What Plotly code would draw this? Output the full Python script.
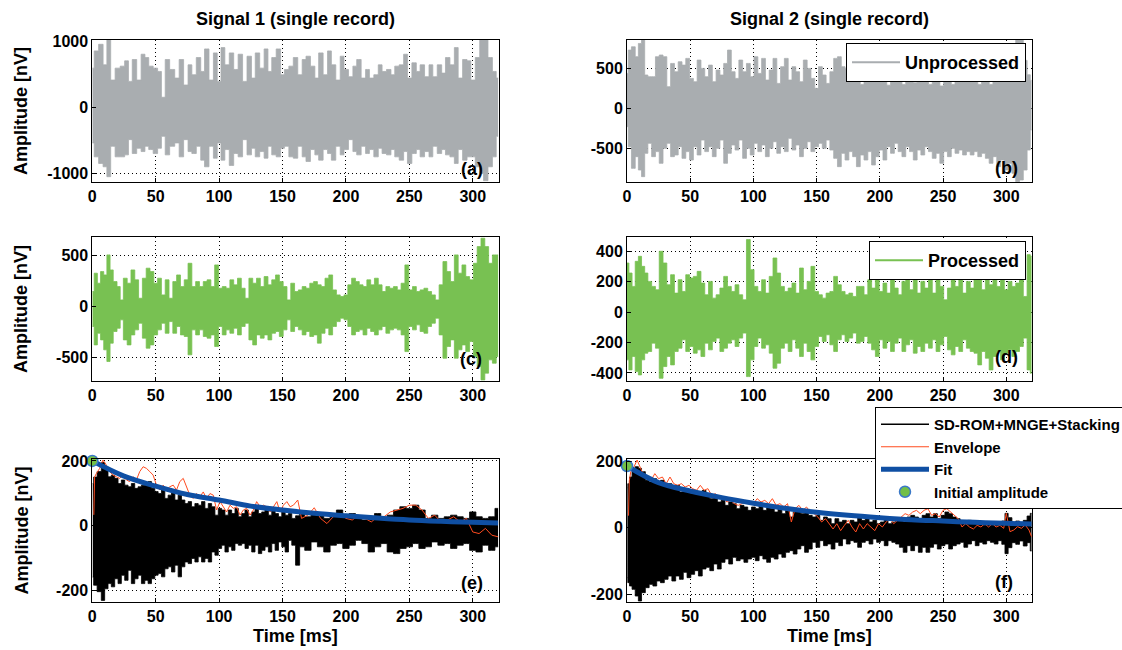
import plotly.graph_objects as go

# ---------------- data ----------------
# (a) Signal 1 unprocessed: upper / lower extremes of the trace
t_a = [0, 3, 7, 10, 13, 16, 20, 24, 27, 30,
       33, 37, 40, 43, 46, 50, 53, 56, 59, 63,
       67, 70, 74, 77, 80, 84, 87, 90, 94, 97,
       100, 103, 106, 110, 113, 117, 120, 124, 127, 130,
       134, 137, 140, 143, 147, 150, 153, 157, 160, 164,
       167, 170, 174, 177, 180, 184, 187, 190, 194, 197,
       200, 204, 207, 210, 214, 217, 220, 224, 227, 230,
       234, 237, 240, 244, 247, 250, 254, 257, 260, 264,
       267, 270, 274, 277, 280, 284, 287, 290, 294, 297,
       300, 304, 307, 310, 314, 317, 320]
up_a = [590, 850, 950, 640, 1050, 410, 590, 620, 700, 390,
        720, 410, 800, 750, 620, 590, 540, 150, 720, 570,
        440, 720, 335, 640, 490, 750, 540, 880, 410, 820,
        390, 900, 640, 820, 570, 800, 390, 770, 440, 820,
        590, 880, 540, 750, 880, 490, 570, 620, 750, 490,
        720, 770, 620, 440, 820, 490, 850, 640, 410, 770,
        570, 460, 620, 720, 440, 570, 440, 490, 640, 540,
        570, 490, 620, 640, 800, 440, 670, 540, 640, 460,
        640, 460, 640, 515, 750, 640, 900, 440, 720, 700,
        410, 750, 1050, 1050, 750, 540, 440]
lo_a = [-540, -750, -850, -900, -1050, -590, -750, -750, -720, -490,
        -700, -620, -670, -590, -640, -700, -620, -440, -720, -590,
        -540, -750, -490, -670, -700, -590, -800, -900, -590, -770,
        -540, -800, -640, -880, -700, -750, -490, -720, -620, -750,
        -670, -770, -590, -720, -750, -620, -590, -750, -770, -590,
        -750, -820, -640, -720, -800, -640, -700, -800, -590, -720,
        -640, -490, -670, -720, -590, -700, -640, -750, -620, -700,
        -720, -640, -750, -800, -670, -850, -700, -640, -750, -670,
        -750, -590, -700, -640, -720, -750, -850, -640, -800, -750,
        -750, -900, -1000, -1110, -900, -750, -440]

# (b) Signal 2 unprocessed
t_b = [0, 2, 5, 8, 10, 13,
       15, 18, 21, 24, 27, 30, 33, 36, 39, 42, 45, 48, 51, 54, 57, 60, 63, 66, 69, 72,
       75, 78, 81, 84, 87, 90, 93, 96, 99, 102, 105, 108, 111, 114, 117, 120, 123, 126,
       129, 132, 135, 138, 141, 144, 147, 150, 153, 156, 159, 162, 165, 168,
       171, 174, 177, 180, 183, 186, 189, 192, 195, 198, 201, 204, 207, 210, 213, 216,
       219, 222, 225, 228, 231, 234, 237, 240, 243, 246, 249, 252, 255, 258, 261, 264,
       267, 270, 273, 276, 279, 282, 285, 288, 291, 294, 297, 300, 303, 306, 309, 312,
       315, 318, 320]
up_b = [437, 729, 770, 646, 812, 862,
        417, 396, 396, 646, 667, 646, 271, 562, 458, 583,
        541, 625, 375, 333, 604, 500, 396, 541, 333, 479,
        417, 562, 729, 458, 375, 604, 458, 562, 396, 646,
        437, 625, 354, 479, 625, 312, 521, 625, 354, 521,
        458, 333, 604, 500, 375, 250, 521, 417, 312, 458,
        625, 646,
        521, 500, 350, 580, 420, 300, 550, 450, 330, 600,
        420, 500, 290, 550, 400, 470, 300, 520, 400, 320,
        560, 400, 450, 300, 520, 410, 280, 500, 380, 300,
        480, 420, 330, 520, 400, 460, 300, 550, 420, 300,
        520, 380, 450, 350, 520, 700, 880, 880, 600, 420,
        350]
lo_b = [-229, -479, -750, -604, -771, -854,
        -562, -437, -604, -541, -687, -500, -437, -604, -583, -479,
        -625, -541, -646, -479, -583, -396, -541, -479, -604, -500,
        -396, -687, -562, -458, -521, -396, -625, -500, -583, -437,
        -541, -458, -604, -500, -417, -562, -479, -541, -375, -521,
        -458, -604, -500, -417, -541, -479, -437, -500, -396, -521,
        -625, -729,
        -562, -646, -541, -604, -729, -583, -646, -541, -708, -604,
        -521, -646, -479, -562, -437, -541, -604, -479, -541, -646,
        -521, -583, -479, -541, -625, -562, -687, -541, -604, -500,
        -562, -521, -583, -541, -583, -541, -604, -562, -625, -687,
        -604, -729, -646, -771, -687, -812, -917, -896, -771, -521,
        -271]

# (c) Signal 1 processed
t_c = [0, 3, 5, 8, 10, 13, 15, 18, 21, 23,
       26, 29, 32, 35, 38, 41, 44, 47, 50, 53,
       56, 59, 62, 65, 68, 71, 74, 77, 80, 83,
       86, 89, 92, 95, 98, 101, 104, 107, 110, 113,
       116, 119, 122, 125, 128, 131, 134, 137, 140, 143,
       146, 149, 152, 155, 158, 161, 164, 167, 170, 173,
       176, 179, 182, 185, 188, 191, 194, 197, 200, 203,
       206, 209, 212, 215, 218, 221, 224, 227, 230, 233,
       236, 239, 242, 245, 248, 251, 254, 257, 260, 263,
       266, 269, 272, 275, 278, 281, 284, 287, 290, 293,
       296, 299, 302, 305, 308, 311, 314, 317, 320]
up_c = [147, 326, 228, 342, 309, 505, 358, 244, 195, 65,
        277, 228, 358, 261, 81, 277, 375, 342, 228, 277,
        114, 261, 81, 244, 309, 195, 261, 423, 195, 244,
        195, 244, 261, 195, 407, 179, 195, 179, 261, 212,
        277, 179, 81, 277, 228, 277, 195, 293, 212, 261,
        309, 244, 195, 65, 228, 147, 163, 195, 179, 228,
        244, 212, 195, 277, 309, 163, 114, 98, 114, 212,
        277, 244, 212, 195, 261, 212, 277, 212, 147, 195,
        179, 195, 163, 228, 407, 163, 195, 147, 163, 179,
        147, 114, 65, 212, 440, 342, 244, 505, 326, 407,
        293, 261, 423, 586, 668, 586, 423, 505, 505]
lo_c = [-195, -375, -261, -326, -423, -537, -358, -244, -212, -130,
        -326, -375, -277, -228, -163, -309, -407, -375, -277, -228,
        -163, -261, -147, -261, -195, -277, -293, -472, -228, -277,
        -228, -293, -309, -277, -391, -195, -277, -228, -261, -212,
        -277, -195, -163, -326, -375, -277, -309, -277, -326, -261,
        -244, -293, -228, -130, -244, -195, -228, -277, -244, -293,
        -277, -358, -261, -212, -277, -195, -147, -114, -130, -195,
        -277, -244, -228, -277, -212, -244, -277, -228, -195, -261,
        -228, -212, -228, -277, -440, -195, -228, -179, -244, -261,
        -195, -163, -114, -277, -505, -391, -326, -505, -423, -375,
        -440, -342, -489, -586, -717, -651, -521, -554, -489]

# (d) Signal 2 processed
t_d = [0, 3, 5, 8, 10, 13, 15,
       18, 21, 24, 27, 30, 33, 36, 39, 42, 45,
       48, 51, 54, 57, 60, 63, 66, 69, 72, 75,
       78, 81, 84, 87, 90, 93, 96, 99, 102, 105,
       108, 111, 114, 117, 120, 123, 126, 129, 132, 135,
       138, 141, 144, 147, 150, 153, 156, 159, 162, 165,
       168, 171, 174, 177, 180, 183, 186, 189, 192, 195,
       198, 201, 204, 207, 210, 213, 216, 219, 222, 225,
       228, 231, 234, 237, 240, 243, 246, 249, 252, 255,
       258, 261, 264, 267, 270, 273, 276, 279, 282, 285,
       288, 291, 294, 297, 300, 303, 306, 309, 312, 315,
       318, 320]
up_d = [323, 257, 169, 334, 367, 301, 257,
        202, 169, 147, 400, 323, 180, 246, 125, 213, 136,
        246, 224, 235, 268, 191, 114, 202, 92, 114, 158,
        235, 169, 136, 180, 114, 81, 477, 279, 169, 136,
        213, 125, 235, 356, 257, 169, 136, 158, 191, 125,
        290, 147, 202, 301, 136, 114, 92, 125, 136, 235,
        180, 136, 114, 125, 103, 169, 169, 114, 213, 158,
        246, 136, 191, 125, 235, 158, 114, 202, 224, 147,
        246, 125, 202, 158, 224, 125, 246, 169, 81, 158,
        246, 169, 235, 125, 202, 158, 224, 246, 147, 213,
        180, 224, 169, 246, 147, 202, 169, 191, 213, 103,
        378, 367]
lo_d = [-314, -380, -292, -391, -413, -314, -270,
        -259, -204, -237, -435, -358, -292, -347, -259, -237, -182,
        -259, -226, -270, -248, -292, -204, -248, -193, -171, -259,
        -237, -204, -182, -226, -171, -138, -424, -314, -226, -171,
        -237, -215, -270, -369, -336, -237, -204, -259, -182, -237,
        -292, -204, -259, -314, -226, -160, -193, -149, -215, -259,
        -182, -149, -193, -171, -138, -204, -193, -160, -204, -248,
        -292, -182, -237, -193, -259, -204, -171, -259, -215, -182,
        -270, -226, -259, -204, -237, -182, -259, -215, -160, -248,
        -281, -226, -259, -182, -237, -259, -270, -347, -259, -303,
        -380, -292, -259, -314, -270, -248, -292, -259, -226, -171,
        -380, -402]

# (e) Signal 1 stacked
t_e = [0.3, 1.8, 5.8, 8.4, 11.1, 13.7, 16.3, 19.0, 21.6, 24.2, 26.9,
       29.5, 32.1, 34.8, 37.4, 40.1, 42.7, 45.3, 48.0, 50.6, 53.2,
       55.9, 58.5, 61.1, 63.8, 66.4, 69.0, 71.7, 74.3, 76.9, 79.6,
       82.2, 84.8, 87.5, 90.1, 92.8, 95.4, 98.0, 100.7, 103.3, 105.9,
       108.6, 111.2, 113.8, 116.5, 119.1, 121.7, 124.4, 127.0, 129.6, 132.3,
       134.9, 137.5, 140.2, 142.8, 145.5, 148.1, 150.7, 153.4, 156.0, 158.6,
       162, 165, 170, 175, 180, 185, 190, 195, 200, 205, 210, 215, 220, 225, 230,
       235, 240, 245, 250, 255, 260, 265, 270, 275, 280, 285, 290, 295, 300, 305,
       310, 315, 320]
up_e = [130, 150, 167, 195, 182, 151, 156, 146, 130, 141, 125,
        120, 130, 115, 120, 125, 130, 136, 115, 105, 99,
        110, 84, 94, 110, 79, 94, 79, 68, 74, 58,
        68, 63, 74, 53, 68, 58, 32, 53, 48, 32,
        48, 37, 53, 27, 37, 48, 27, 42, 58, 37,
        42, 48, 32, 48, 37, 27, 48, 32, 37, 22,
        30, 37, 27, 42, 32, 22, 37, 48, 27, 37, 22, 17, 27, 37, 22,
        32, 48, 58, 53, 63, 48, 22, 32, 22, 27, 32, 27, 22, 42, 27,
        22, 27, 53]
lo_e = [-160, -185, -205, -232, -196, -180, -190, -165, -180, -154, -170,
        -139, -180, -165, -154, -180, -170, -180, -165, -154, -149,
        -159, -134, -128, -144, -123, -159, -128, -113, -118, -102,
        -113, -97, -113, -102, -113, -82, -92, -71, -61, -82,
        -66, -77, -56, -61, -56, -71, -61, -82, -61, -87,
        -77, -66, -82, -56, -77, -51, -66, -82, -46, -61,
        -123, -66, -77, -51, -66, -82, -61, -56, -71, -61, -46, -56, -82, -66, -56,
        -82, -87, -71, -66, -56, -71, -66, -51, -61, -56, -71, -61, -56, -77, -82,
        -61, -77, -66]
t_env_e = [1.2, 1.8, 3.2, 5.8, 8.4, 11.1, 13.7, 16.3, 19.0, 21.6, 24.2, 26.9,
           29.5, 32.1, 34.8, 37.4, 40.1, 42.7, 45.3, 48.0, 50.6, 53.2,
           55.9, 58.5, 61.1, 63.8, 66.4, 69.0, 71.7, 74.3, 76.9, 79.6,
           82.2, 84.8, 87.5, 90.1, 92.8, 95.4, 98.0, 100.7, 103.3, 105.9,
           108.6, 111.2, 113.8, 116.5, 119.1, 121.7, 124.4, 127.0, 129.6, 132.3,
           134.9, 137.5, 140.2, 142.8, 145.5, 148.1, 150.7, 153.4, 156.0, 158.6,
           162, 165, 170, 175, 180, 185, 190, 195, 200, 205, 210, 215, 220, 225, 230,
           235, 240, 245, 250, 255, 260, 265, 270, 275, 280, 285, 290, 295, 300, 305,
           310, 315, 320]
env_e = [33, 150, 161, 177, 203, 187, 167, 156, 151, 146, 156, 141,
         136, 151, 141, 167, 182, 177, 167, 156, 125, 110,
         125, 110, 120, 125, 110, 136, 146, 120, 94, 84,
         99, 89, 104, 84, 99, 94, 48, 74, 58, 42,
         63, 53, 58, 32, 48, 53, 32, 48, 74, 58,
         63, 58, 42, 58, 74, 42, 63, 74, 58, 63,
         79, 22, 32, 55, 22, 6, 27, 37, 22, 17, 32, 22, 11, 27, 27,
         42, 48, 53, 63, 63, 48, 22, 32, 11, 17, 27, 11, 22, -20, -25,
         -9, -30, -35]
t_fit_e = [0, 25, 50, 75, 100, 125, 150, 175, 200, 225, 250, 275, 300, 320]
fit_e = [200, 153, 122, 96, 79, 60, 48, 38, 30, 23, 17, 13, 10, 8]
init_e = 200

# (f) Signal 2 stacked
t_f = [0.3, 1, 3, 5, 8, 10,
       13, 16, 19, 22, 25, 28, 31, 34, 37, 40,
       43, 46, 49, 52, 55, 58, 61, 64, 67, 70,
       73, 76, 79, 82, 85, 88, 91, 94, 97, 100,
       103, 106, 109, 112, 115, 118, 121, 124, 127, 130,
       133, 136, 139, 142, 145,
       148, 151, 154, 157, 160, 163, 166, 169, 172, 175,
       178, 181, 184, 187, 190, 193, 196, 199, 202, 205,
       208, 211, 214, 217, 220, 223, 226, 229, 232, 235,
       238, 241, 244, 247, 250, 253, 256, 259, 262, 265,
       268, 271, 274, 277, 280, 283, 286, 289, 292, 295,
       298, 300, 303, 306, 309, 312, 315, 318, 320]
up_f = [120, 132, 152, 168, 183, 178,
        168, 142, 137, 147, 132, 142, 127, 132, 117, 127,
        107, 117, 112, 102, 107, 102, 112, 97, 87, 92,
        77, 82, 67, 77, 72, 57, 67, 62, 52, 62,
        57, 67, 52, 62, 57, 47, 57, 42, 52, 32,
        47, 52, 42, 47, 37,
        32, 37, 22, 32, 27, 12, 27, 17, 22, 12,
        22, 17, 32, 22, 27, 17, 22, 12, 17, 27,
        12, 17, 22, 27, 17, 32, 37, 32, 27, 37,
        42, 32, 42, 27, 37, 47, 42, 32, 27, 12,
        17, 22, 12, 17, 12, 7, 17, 12, 7, 17,
        20, 43, 30, 15, 20, 15, 22, 35, 43]
lo_f = [-150, -165, -175, -185, -205, -220,
        -195, -180, -170, -175, -160, -165, -155, -145, -160, -145,
        -155, -134, -150, -140, -129, -145, -124, -119, -129, -109,
        -124, -104, -94, -109, -89, -99, -94, -104, -94, -89,
        -99, -84, -94, -104, -89, -94, -79, -89, -74, -69,
        -79, -64, -54, -74, -64,
        -44, -59, -39, -54, -49, -64, -44, -54, -34, -49,
        -39, -44, -59, -44, -39, -49, -34, -44, -39, -54,
        -39, -44, -49, -59, -74, -54, -69, -54, -74, -59,
        -74, -59, -49, -64, -54, -49, -64, -54, -49, -44,
        -59, -49, -39, -54, -44, -49, -39, -44, -49, -39,
        -50, -78, -60, -45, -50, -40, -55, -45, -70]
t_env_f = [1.2, 1.8, 3, 5, 8, 10,
           13, 16, 19, 22, 25, 28, 31, 34, 37, 40,
           43, 46, 49, 52, 55, 58, 61, 64, 67, 70,
           73, 76, 79, 82, 85, 88, 91, 94, 97, 100,
           103, 106, 109, 112, 115, 118, 121, 124, 127, 130,
           133, 136, 139, 142, 145,
           148, 151, 154, 157, 160, 163, 166, 169, 172, 175,
           178, 181, 184, 187, 190, 193, 196, 199, 202, 205,
           208, 211, 214, 217, 220, 223, 226, 229, 232, 235,
           238, 241, 244, 247, 250, 253, 256, 259, 262, 265,
           268, 271, 274, 277, 280, 283, 286, 289, 292, 295,
           298, 300, 303, 306, 309, 312, 315, 318, 320]
env_f = [36, 140, 168, 178, 203, 183,
         158, 147, 142, 162, 147, 152, 132, 152, 132, 127,
         132, 122, 127, 117, 112, 127, 112, 117, 97, 102,
         87, 92, 77, 82, 72, 67, 72, 82, 77, 72,
         87, 77, 82, 72, 87, 67, 72, 62, 72, 17,
         57, 67, 52, 62, 47,
         42, 32, 17, 27, 12, -4, 12, -9, 7, 22,
         2, -13, 12, -4, 12, 2, -9, 12, 2, 17,
         27, 12, 22, 32, 42, 37, 47, 52, 42, 52,
         57, 37, 42, 32, 52, 57, 47, 37, 27, 2,
         12, 2, -4, 7, 2, 12, 2, 12, 2, 7,
         -2, 43, -12, -7, 3, -2, 8, -7, -27]
t_fit_f = [0, 25, 50, 75, 100, 125, 150, 175, 200, 225, 250, 275, 300, 320]
fit_f = [185, 135, 110, 90, 73, 58, 46, 37, 30, 24, 20, 16, 13, 11]
init_f = 185

x_ticks = [0, 50, 100, 150, 200, 250, 300]
y_ticks = {1: [-1000, 0, 1000], 2: [-500, 0, 500], 3: [-500, 0, 500],
           4: [-400, -200, 0, 200, 400], 5: [-200, 0, 200], 6: [-200, 0, 200]}
y_ranges = {1: [-1130, 1015], 2: [-921, 855], 3: [-728, 680],
            4: [-453, 494], 5: [-237, 206], 6: [-223, 206]}
panel_letters = ["(a)", "(b)", "(c)", "(d)", "(e)", "(f)"]
col_titles = ["Signal 1 (single record)", "Signal 2 (single record)"]

# ---------------- styling ----------------
W, H = 1122, 650
FONT = "Liberation Sans, Arial, sans-serif"
GRAY = "#A9ADB0"
GREEN = "#78C152"
BLACK = "#000000"
RED = "#FF4B1F"
BLUE = "#0F4FA3"
DOT = "#72BF47"

fig = go.Figure()


def band(n, t, up, lo, color):
    xa = "x" if n == 1 else f"x{n}"
    ya = "y" if n == 1 else f"y{n}"
    fig.add_trace(go.Scatter(x=t, y=lo, mode="lines", xaxis=xa, yaxis=ya,
                             line=dict(color=color, width=0.8, shape="hvh"),
                             showlegend=False, hoverinfo="skip"))
    fig.add_trace(go.Scatter(x=t, y=up, mode="lines", xaxis=xa, yaxis=ya,
                             line=dict(color=color, width=0.8, shape="hvh"),
                             fill="tonexty", fillcolor=color,
                             showlegend=False, hoverinfo="skip"))


band(1, t_a, up_a, lo_a, GRAY)
band(2, t_b, up_b, lo_b, GRAY)
band(3, t_c, up_c, lo_c, GREEN)
band(4, t_d, up_d, lo_d, GREEN)
band(5, t_e, up_e, lo_e, BLACK)
band(6, t_f, up_f, lo_f, BLACK)

# legend entries
fig.add_trace(go.Scatter(x=[None], y=[None], mode="lines", name="Unprocessed",
                         line=dict(color=GRAY, width=2), legend="legend", xaxis="x2", yaxis="y2"))
fig.add_trace(go.Scatter(x=[None], y=[None], mode="lines", name="Processed",
                         line=dict(color=GREEN, width=2), legend="legend2", xaxis="x4", yaxis="y4"))
fig.add_trace(go.Scatter(x=[None], y=[None], mode="lines", name="SD-ROM+MNGE+Stacking",
                         line=dict(color=BLACK, width=1.5), legend="legend3", xaxis="x6", yaxis="y6"))

for n, te, ev, tf, fv, a0 in [(5, t_env_e, env_e, t_fit_e, fit_e, init_e),
                              (6, t_env_f, env_f, t_fit_f, fit_f, init_f)]:
    show = n == 6
    fig.add_trace(go.Scatter(x=te, y=ev, mode="lines", name="Envelope",
                             xaxis=f"x{n}", yaxis=f"y{n}",
                             line=dict(color=RED, width=1), showlegend=show, legend="legend3"))
    fig.add_trace(go.Scatter(x=tf, y=fv, mode="lines", name="Fit",
                             xaxis=f"x{n}", yaxis=f"y{n}",
                             line=dict(color=BLUE, width=5, shape="spline"),
                             showlegend=show, legend="legend3"))
    fig.add_trace(go.Scatter(x=[0], y=[a0], mode="markers", name="Initial amplitude",
                             xaxis=f"x{n}", yaxis=f"y{n}", cliponaxis=False,
                             marker=dict(color=DOT, size=11, line=dict(color="#3A78C8", width=1.5)),
                             showlegend=show, legend="legend3"))

# ---------------- layout ----------------
col_dom = [[92.3 / W, 499 / W], [627 / W, 1032.4 / W]]
row_px = [(40, 182), (237, 381), (459, 602)]
row_dom = [[1 - b / H, 1 - t / H] for t, b in row_px]

tickfont = dict(family=FONT, size=16, color="black", weight="bold")
layout = dict(width=W, height=H, margin=dict(l=0, r=0, t=0, b=0, autoexpand=False),
              paper_bgcolor="white", plot_bgcolor="white",
              font=dict(family=FONT, color="black"))
axis_common = dict(showline=True, mirror=True, linecolor="black", linewidth=1,
                   showgrid=True, gridcolor="black", griddash="1px,3px", gridwidth=1,
                   zeroline=False, ticks="inside", ticklen=4, tickcolor="black",
                   tickfont=tickfont)
for n in range(1, 7):
    r = (n - 1) // 2
    c = (n - 1) % 2
    xk = "xaxis" if n == 1 else f"xaxis{n}"
    yk = "yaxis" if n == 1 else f"yaxis{n}"
    ya = "y" if n == 1 else f"y{n}"
    xa = "x" if n == 1 else f"x{n}"
    layout[xk] = dict(domain=col_dom[c], anchor=ya, range=[0, 320.7],
                      tickvals=x_ticks, ticktext=[str(v) for v in x_ticks], **axis_common)
    layout[yk] = dict(domain=row_dom[r], anchor=xa, range=y_ranges[n],
                      tickvals=y_ticks[n], ticktext=[str(v) for v in y_ticks[n]],
                      **axis_common)

legend_common = dict(bgcolor="white", bordercolor="black", borderwidth=1,
                     tracegroupgap=0, itemclick=False, itemwidth=48)
layout["legend"] = dict(x=1026 / W, xanchor="right", y=1 - 43 / H, yanchor="top",
                        font=dict(family=FONT, size=18, color="black", weight="bold"),
                        **legend_common)
layout["legend2"] = dict(x=1026 / W, xanchor="right", y=1 - 241 / H, yanchor="top",
                         font=dict(family=FONT, size=18, color="black", weight="bold"),
                         **legend_common)
layout["legend3"] = dict(x=875 / W, xanchor="left", y=1 - 407 / H, yanchor="top",
                         font=dict(family=FONT, size=15, color="black", weight="bold"),
                         **legend_common)

ann = []
title_font = dict(family=FONT, size=18, color="black", weight="bold")
for c, txt in enumerate(col_titles):
    cx = (col_dom[c][0] + col_dom[c][1]) / 2
    ann.append(dict(text=txt, x=cx, y=1 - 19 / H, xref="paper", yref="paper",
                    showarrow=False, font=title_font, xanchor="center", yanchor="middle"))
for r in range(3):
    cy = (row_dom[r][0] + row_dom[r][1]) / 2
    ann.append(dict(text="Amplitude [nV]", x=21 / W, y=cy, xref="paper", yref="paper",
                    textangle=-90, showarrow=False, font=title_font,
                    xanchor="center", yanchor="middle"))
for c in range(2):
    cx = (col_dom[c][0] + col_dom[c][1]) / 2
    ann.append(dict(text="Time [ms]", x=cx, y=1 - 636 / H, xref="paper", yref="paper",
                    showarrow=False, font=title_font, xanchor="center", yanchor="middle"))
letter_pos = [(0.934, 0.09), (0.935, 0.10), (0.931, 0.15), (0.935, 0.17), (0.934, 0.135), (0.929, 0.142)]
for n in range(1, 7):
    xa = "x" if n == 1 else f"x{n}"
    ya = "y" if n == 1 else f"y{n}"
    px, py = letter_pos[n - 1]
    ann.append(dict(text=panel_letters[n - 1], x=px, y=py,
                    xref=f"{xa} domain", yref=f"{ya} domain", showarrow=False,
                    font=dict(family=FONT, size=18, color="black", weight="bold"),
                    xanchor="center", yanchor="middle"))
layout["annotations"] = ann

fig.update_layout(**layout)
fig.write_html("out.html", config={"displayModeBar": False},
               post_script="document.body.style.margin='0';document.body.style.overflow='hidden';")
